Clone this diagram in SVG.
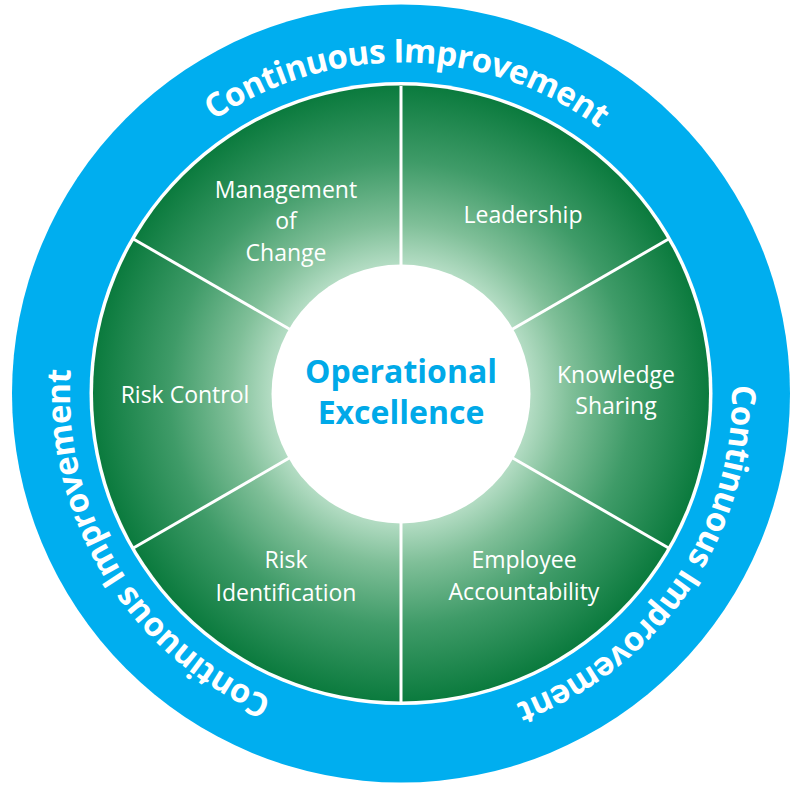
<svg xmlns="http://www.w3.org/2000/svg" xmlns:xlink="http://www.w3.org/1999/xlink" width="800" height="800" viewBox="0 0 800 800">
  <defs>
    <radialGradient id="greenGrad" cx="401" cy="393.5" r="309" gradientUnits="userSpaceOnUse">
      <stop offset="0" stop-color="#d6eedf"/>
      <stop offset="0.42" stop-color="#b3dcc3"/>
      <stop offset="0.55" stop-color="#7fbf98"/>
      <stop offset="0.75" stop-color="#3f9b68"/>
      <stop offset="1" stop-color="#0a7a3d"/>
    </radialGradient>
    <path id="ringPath" d="M 401 724.5 A 331 331 0 1 1 401 62.5 A 331 331 0 1 1 401 724.5"/>
  </defs>
  <style>
    .ringText { font-family: "Open Sans", "Liberation Sans", sans-serif; font-weight: 700; font-size: 33px; fill: #ffffff; letter-spacing: -0.6px; }
    .label { font-family: "Open Sans", "Liberation Sans", sans-serif; font-size: 23px; fill: #ffffff; text-anchor: middle; }
    .center { font-family: "Open Sans", "Liberation Sans", sans-serif; font-weight: 700; font-size: 32px; fill: #00a9e8; text-anchor: middle; }
    .divider { stroke: #ffffff; stroke-width: 3; }
  </style>

  <g id="outer-ring">
    <circle cx="401" cy="393.5" r="389" fill="#00aeef"/>
    <circle cx="401" cy="393.5" r="311.5" fill="#ffffff"/>
    <circle cx="401" cy="393.5" r="308" fill="url(#greenGrad)"/>
    <text class="ringText"><textPath xlink:href="#ringPath" href="#ringPath" startOffset="1045.7" text-anchor="middle">Continuous Improvement</textPath></text>
    <text class="ringText"><textPath xlink:href="#ringPath" href="#ringPath" startOffset="1756.1" text-anchor="middle">Continuous Improvement</textPath></text>
    <text class="ringText"><textPath xlink:href="#ringPath" href="#ringPath" startOffset="338" text-anchor="middle">Continuous Improvement</textPath></text>
  </g>

  <g id="connectors">
    <line class="divider" x1="401" y1="266" x2="401" y2="86"/>
    <line class="divider" x1="511" y1="330" x2="668.6" y2="239"/>
    <line class="divider" x1="511" y1="457" x2="668.6" y2="548"/>
    <line class="divider" x1="401" y1="521" x2="401" y2="702"/>
    <line class="divider" x1="291" y1="457" x2="133.4" y2="548"/>
    <line class="divider" x1="291" y1="330" x2="133.4" y2="239"/>
  </g>

  <g id="center">
    <circle cx="401" cy="394" r="129.5" fill="#ffffff"/>
    <text class="center" x="401" y="383">Operational</text>
    <text class="center" x="401" y="424">Excellence</text>
  </g>

  <g id="leadership">
    <text class="label" x="523" y="223">Leadership</text>
  </g>
  <g id="knowledge-sharing">
    <text class="label" x="616" y="383">Knowledge</text>
    <text class="label" x="616" y="414">Sharing</text>
  </g>
  <g id="employee-accountability">
    <text class="label" x="524" y="568">Employee</text>
    <text class="label" x="524" y="600">Accountability</text>
  </g>
  <g id="risk-identification">
    <text class="label" x="286" y="568">Risk</text>
    <text class="label" x="286" y="601">Identification</text>
  </g>
  <g id="risk-control">
    <text class="label" x="185" y="403">Risk Control</text>
  </g>
  <g id="management-of-change">
    <text class="label" x="286" y="198">Management</text>
    <text class="label" x="286" y="229">of</text>
    <text class="label" x="286" y="261">Change</text>
  </g>
</svg>
